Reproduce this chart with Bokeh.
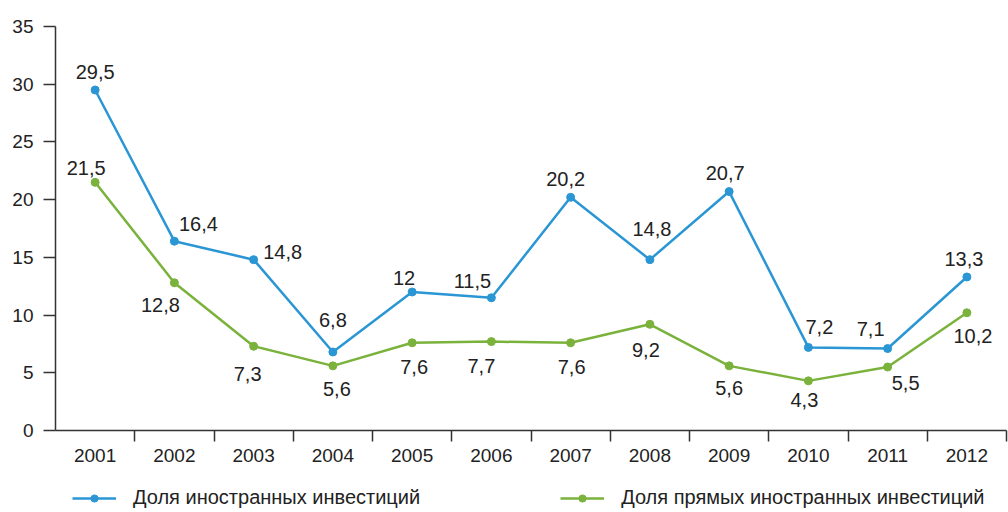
from bokeh.plotting import figure
from bokeh.layouts import column
from bokeh.models import (Range1d, LinearAxis, FixedTicker, Legend, LegendItem,
                          ColumnDataSource, LabelSet)
from bokeh.core.properties import value
from bokeh.embed import file_html
from bokeh.resources import INLINE

# ---- data ----
years = ["2001", "2002", "2003", "2004", "2005", "2006",
         "2007", "2008", "2009", "2010", "2011", "2012"]
foreign_share = [29.5, 16.4, 14.8, 6.8, 12.0, 11.5, 20.2, 14.8, 20.7, 7.2, 7.1, 13.3]
direct_share = [21.5, 12.8, 7.3, 5.6, 7.6, 7.7, 7.6, 9.2, 5.6, 4.3, 5.5, 10.2]
series_names = ["Доля иностранных инвестиций", "Доля прямых иностранных инвестиций"]
y_ticks = [0, 5, 10, 15, 20, 25, 30, 35]

# ---- styles ----
FONT = "Liberation Sans"
BLUE = "#2a96d4"
GREEN = "#7ab23c"
TXT = "#222222"
AX = "#333333"
# label offsets in px (style only)
blue_dx = [0, 24, 29, 0, -8, -19, -5, 2, -4, 11, -17, -3]
blue_dy = [18, 17, 8, 32, 14, 17, 18, 31, 19, 20, 20, 18]
green_dx = [-9, -14, -6, 4, 2, -10, 1, -4, 0, -4, 18, 6]
green_dy = [14, -22, -28, -23, -24, -24, -24, -26, -22, -19, -16, -23]

xs = list(range(1, len(years) + 1))

def fmt(v):
    return f"{v:g}".replace(".", ",")

p = figure(width=1008, height=472, output_backend="svg", toolbar_location=None,
           x_range=Range1d(0.5, len(years) + 0.5), y_range=Range1d(0, 35),
           x_axis_type=None, y_axis_type=None,
           min_border_left=55, min_border_right=2, min_border_top=26,
           min_border_bottom=42)
p.outline_line_color = None
p.background_fill_color = "white"
p.border_fill_color = "white"

# y axis
yax = LinearAxis(ticker=FixedTicker(ticks=y_ticks))
yax.axis_line_color = AX
yax.axis_line_width = 1.5
yax.major_tick_line_color = AX
yax.major_tick_line_width = 1.5
yax.major_tick_out = 12
yax.major_tick_in = 0
yax.minor_tick_line_color = None
yax.major_label_standoff = 10
yax.major_label_text_font = FONT
yax.major_label_text_font_size = "19px"
yax.major_label_text_color = TXT
p.add_layout(yax, "left")

# x axis: labels at centres, ticks at category boundaries
xax = LinearAxis(ticker=FixedTicker(ticks=xs, minor_ticks=[x + 0.5 for x in xs]))
xax.major_label_overrides = {x: y for x, y in zip(xs, years)}
xax.axis_line_color = AX
xax.axis_line_width = 1.5
xax.major_tick_line_color = None
xax.major_tick_out = 0
xax.major_tick_in = 0
xax.minor_tick_line_color = AX
xax.minor_tick_line_width = 1.5
xax.minor_tick_out = 11
xax.minor_tick_in = 0
xax.major_label_standoff = 7
xax.major_label_text_font = FONT
xax.major_label_text_font_size = "19px"
xax.major_label_text_color = TXT
p.add_layout(xax, "below")

src_b = ColumnDataSource(dict(x=xs, y=foreign_share, t=[fmt(v) for v in foreign_share],
                              dx=blue_dx, dy=blue_dy))
src_g = ColumnDataSource(dict(x=xs, y=direct_share, t=[fmt(v) for v in direct_share],
                              dx=green_dx, dy=green_dy))

p.line("x", "y", source=src_b, line_color=BLUE, line_width=2.5)
p.scatter("x", "y", source=src_b, size=8, fill_color=BLUE, line_color=BLUE)
p.line("x", "y", source=src_g, line_color=GREEN, line_width=2.5)
p.scatter("x", "y", source=src_g, size=8, fill_color=GREEN, line_color=GREEN)

for src in (src_b, src_g):
    labels = LabelSet(x="x", y="y", text="t", source=src, x_offset="dx", y_offset="dy",
                      text_align="center", text_baseline="middle",
                      text_font=value(FONT), text_font_size="20px", text_color=TXT)
    p.add_layout(labels)

# ---- legend strip below the chart (same series, view range kept off the data) ----
leg = figure(width=1008, height=40, output_backend="svg", toolbar_location=None,
             x_range=Range1d(0.5, len(years) + 0.5), y_range=Range1d(100, 101),
             x_axis_type=None, y_axis_type=None,
             min_border_left=55, min_border_right=2, min_border_top=0,
             min_border_bottom=0)
leg.outline_line_color = None
leg.background_fill_color = "white"
leg.border_fill_color = "white"
l1 = leg.line("x", "y", source=src_b, line_color=BLUE, line_width=2.5)
m1 = leg.scatter("x", "y", source=src_b, size=8, fill_color=BLUE, line_color=BLUE)
l2 = leg.line("x", "y", source=src_g, line_color=GREEN, line_width=2.5)
m2 = leg.scatter("x", "y", source=src_g, size=8, fill_color=GREEN, line_color=GREEN)

legend = Legend(items=[LegendItem(label=series_names[0], renderers=[l1, m1]),
                       LegendItem(label=series_names[1], renderers=[l2, m2])],
                orientation="horizontal", location=(17, 3),
                spacing=140, glyph_width=44, glyph_height=18, label_standoff=17,
                padding=0, margin=0, border_line_color=None,
                background_fill_alpha=0,
                label_text_font=FONT, label_text_font_size="20px",
                label_text_color=TXT)
leg.add_layout(legend, "center")

layout = column(p, leg, spacing=0)
open("out.html", "w").write(file_html(layout, INLINE))
